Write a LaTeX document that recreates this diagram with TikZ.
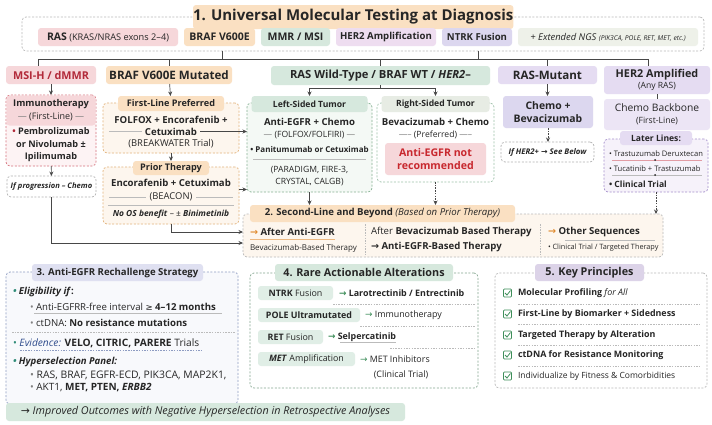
\documentclass[tikz,border=0pt]{standalone}
\usepackage{fontspec}
\setmainfont{Open Sans}
\newfontfamily\symfont{DejaVu Sans}
\usetikzlibrary{positioning, arrows.meta}

\definecolor{ink}{HTML}{262626}
\definecolor{orangebg}{HTML}{FAE0C2}
\definecolor{orangelt}{HTML}{FDF6EE}
\definecolor{orangeln}{HTML}{E2B27A}
\definecolor{arrorange}{HTML}{E08A2E}
\definecolor{pinkbg}{HTML}{F6D7DA}
\definecolor{pinklt}{HTML}{FDF3F4}
\definecolor{pinkln}{HTML}{D6727D}
\definecolor{msired}{HTML}{B22A3A}
\definecolor{warnred}{HTML}{C8282E}
\definecolor{greenbg}{HTML}{D6E8DD}
\definecolor{greenlt}{HTML}{F4F9F5}
\definecolor{greenln}{HTML}{86B194}
\definecolor{sagebg}{HTML}{E7ECE4}
\definecolor{lavbg}{HTML}{E5DCF2}
\definecolor{lavlt}{HTML}{F6F2FA}
\definecolor{lavln}{HTML}{A690CC}
\definecolor{violetbg}{HTML}{DCD7EF}
\definecolor{her2bg}{HTML}{EEDDF0}
\definecolor{bluebg}{HTML}{DFE0F1}
\definecolor{bluelt}{HTML}{F8F9FC}
\definecolor{blueln}{HTML}{8E9CC2}
\definecolor{bluetx}{HTML}{2F4C8C}
\definecolor{keybg}{HTML}{DCD3E8}
\definecolor{checkgreen}{HTML}{3E8E5A}
\definecolor{bullteal}{HTML}{2F8C78}
\definecolor{ngsbg}{HTML}{EEF1E9}
\definecolor{rulegray}{HTML}{BBBBBB}

\newcommand{\szT}{\fontsize{15}{17}\selectfont}
\newcommand{\szH}{\fontsize{11.6}{13.5}\selectfont}
\newcommand{\szB}{\fontsize{9.6}{12}\selectfont}
\newcommand{\szM}{\fontsize{8.9}{11}\selectfont}
\newcommand{\szS}{\fontsize{8.6}{11.5}\selectfont}
\newcommand{\szX}{\fontsize{8}{10}\selectfont}
\newcommand{\szXX}{\fontsize{7.3}{9}\selectfont}
\newcommand{\ra}{{\symfont →}}

\begin{document}
\begin{tikzpicture}[x=1pt, y=-1pt, line width=0.6pt, text=ink,
  every node/.style={inner sep=0pt, outer sep=0pt},
  box/.style={anchor=north west, rounded corners=3pt},
  panel/.style={box, draw, rounded corners=4pt, dash pattern=on 2pt off 1.6pt, line width=0.7pt},
  link/.style={draw=ink!85, line width=0.7pt},
  arr/.style={link, -{Stealth[length=4.5pt, width=4pt]}},
  darr/.style={arr, dash pattern=on 1.5pt off 1.2pt},
  rule/.style={draw=rulegray, line width=0.4pt},
  dsep/.style={draw=rulegray, line width=0.4pt, dash pattern=on 1.5pt off 1.2pt},
  tagbox/.style={box, fill=greenbg!75, minimum height=14pt, font=\szM},
  chk/.style={draw=checkgreen, line width=0.7pt, rounded corners=0.8pt}]
\fill[white] (0,0) rectangle (712,424);
\useasboundingbox (0,0) rectangle (712,424);

% molecular testing
\node (testing) [panel, draw=gray!55, minimum width=682pt, minimum height=34pt] at (22,17) {};
\node (title) [box, fill=orangebg, minimum width=282pt, minimum height=24pt, font=\szT\bfseries] at (193,5) {1. Universal Molecular Testing at Diagnosis};
\node (tRAS) [box, fill=pinkbg, minimum width=140pt, minimum height=18pt, font=\fontsize{9.2}{10}\selectfont] at (38,28) {{\fontsize{10.5}{12}\selectfont\bfseries RAS} (KRAS/NRAS exons 2--4)};
\node (tBRAF) [box, fill=orangebg, minimum width=71pt, minimum height=18pt, font=\fontsize{10.5}{12}\selectfont\bfseries] at (184,28) {BRAF V600E};
\node (tMMR) [box, fill=greenbg, minimum width=69pt, minimum height=18pt, font=\fontsize{10.5}{12}\selectfont\bfseries] at (261,28) {MMR / MSI};
\node (tHER2) [box, fill=her2bg, minimum width=100pt, minimum height=18pt, font=\szB\bfseries] at (336,28) {HER2 Amplification};
\node (tNTRK) [box, fill=violetbg, minimum width=70pt, minimum height=18pt, font=\szB\bfseries] at (442,28) {NTRK Fusion};
\node (tNGS) [box, fill=ngsbg, minimum width=180pt, minimum height=18pt, font=\fontsize{9.4}{10}\selectfont\itshape] at (518,28) {+ Extended NGS {\fontsize{6.7}{8}\selectfont (PIK3CA, POLE, RET, MET, etc.)}};

% first-line headers
\node (msi) [box, fill=pinkbg, minimum width=90pt, minimum height=18pt, font=\fontsize{10.8}{13}\selectfont\bfseries, text=msired] at (6,66) {MSI-H / dMMR};
\node (braf) [box, fill=orangebg, minimum width=126pt, minimum height=18pt, font=\szH\bfseries] at (106,66) {BRAF V600E Mutated};
\node (raswt) [box, fill=greenbg, minimum width=219pt, minimum height=19pt, font=\fontsize{11.2}{13}\selectfont\bfseries] at (271,66) {RAS Wild-Type / BRAF WT / \textit{HER2}--};
\node (rasmut) [box, fill=lavbg, minimum width=99pt, minimum height=18pt, font=\szH\bfseries] at (498,66) {RAS-Mutant};
\node (her2) [box, fill=lavbg, minimum width=106pt, minimum height=28pt, align=center] at (604,66) {{\fontsize{10.8}{13}\selectfont\bfseries HER2 Amplified}\\[-1pt]{\szS (Any RAS)}};

% MSI-H column
\node (immuno) [panel, draw=pinkln, fill=pinklt, minimum width=90pt, minimum height=71pt] at (6,95) {};
\node (immunohead) [box, fill=pinkbg, minimum width=89pt, minimum height=30pt] at (6.5,95.5) {};
\node (immunoT) [font=\fontsize{9.3}{11}\selectfont\bfseries] at (51,104) {Immunotherapy};
\node (immunoFL) [font=\fontsize{9}{11}\selectfont] at (51,117) {\textcolor{gray}{---} (First-Line) \textcolor{gray}{---}};
\node (pembro) [font=\fontsize{9.1}{12.5}\selectfont\bfseries, align=center] at (51,145) {\textcolor{msired}{•} Pembrolizumab\\or Nivolumab ±\\Ipilimumab};
\node (progress) [panel, draw=gray!60, fill=white, minimum width=89pt, minimum height=21pt, font=\fontsize{7.6}{9}\selectfont\bfseries\itshape] at (7,176) {If progression -- Chemo};

% BRAF column
\node (firstline) [panel, draw=orangeln, fill=orangelt, minimum width=136pt, minimum height=50pt] at (103,103) {};
\node (firstlineT) [box, fill=orangebg, minimum width=106pt, minimum height=15pt, font=\fontsize{9.1}{11}\selectfont\bfseries] at (118,96) {First-Line Preferred};
\node (folfox) [font=\szB\bfseries] at (171,120) {FOLFOX + Encorafenib +};
\node (cetux) [font=\szB\bfseries] at (171,131.5) {Cetuximab};
\node (breakwater) [font=\fontsize{9.4}{11}\selectfont] at (171,144) {(BREAKWATER Trial)};
\draw[rule] (109,131.5) -- ([xshift=-3pt]cetux.west);
\node (prior) [panel, draw=orangeln, fill=orangelt, minimum width=136pt, minimum height=57pt] at (103,167) {};
\node (priorT) [box, fill=orangebg, minimum width=76pt, minimum height=14pt, font=\fontsize{9.1}{11}\selectfont\bfseries] at (133,161) {Prior Therapy};
\node (encocet) [font=\szB\bfseries] at (171,183) {Encorafenib + Cetuximab};
\node (beacon) [font=\fontsize{9.4}{11}\selectfont] at (171,197) {(BEACON)};
\draw[rule] (109,197) -- ([xshift=-4pt]beacon.west);
\draw[rule] ([xshift=4pt]beacon.east) -- (233,197);
\draw[rule] (108,205) -- (234,205);
\node (noos) [font=\fontsize{8.4}{10}\selectfont] at (171,214) {\textbf{\textit{No OS benefit}} -- ± \textbf{\textit{Binimetinib}}};

% RAS wild-type column
\node (leftside) [panel, draw=greenln, fill=greenlt, minimum width=125pt, minimum height=89pt] at (247,103) {};
\node (leftsideT) [box, fill=greenbg, minimum width=116pt, minimum height=16pt, font=\szS\bfseries] at (251.5,96) {Left-Sided Tumor};
\node (antiegfr) [font=\szB\bfseries] at (309.5,122) {Anti-EGFR + Chemo};
\node (folfiri) [font=\szS] at (309.5,135) {\textcolor{gray}{---} (FOLFOX/FOLFIRI) \textcolor{gray}{---}};
\node (panitu) [font=\szX\bfseries] at (309.5,149) {• Panitumumab or Cetuximab};
\draw[rule] (253,159) -- (366,159);
\node (trials) [font=\szS, align=center] at (309.5,176) {(PARADIGM, FIRE-3,\\CRYSTAL, CALGB)};

\node (rightside) [panel, draw=greenln!80, fill=white, minimum width=117pt, minimum height=79pt] at (377,103) {};
\node (rightsideT) [box, fill=sagebg, minimum width=108pt, minimum height=16pt, font=\szS\bfseries] at (381.5,96) {Right-Sided Tumor};
\node (bevachemo) [font=\szB\bfseries] at (435.5,122) {Bevacizumab + Chemo};
\node (preferred) [font=\szS] at (435.5,135) {\textcolor{gray}{-----} (Preferred) \textcolor{gray}{-----}};
\node (noegfr) [box, fill=pinkbg, minimum width=101pt, minimum height=32pt, align=center, font=\fontsize{10.6}{13}\selectfont\bfseries, text=warnred] at (385,143) {Anti-EGFR not\\recommended};

% RAS-mutant column
\node (chemobev) [box, fill=violetbg, minimum width=90pt, minimum height=32pt, align=center, font=\fontsize{10.4}{13}\selectfont\bfseries] at (503,96) {Chemo +\\Bevacizumab};
\node (seebelow) [panel, draw=gray!60, fill=white, minimum width=93pt, minimum height=20pt, font=\fontsize{7.8}{9}\selectfont\bfseries\itshape] at (501,142) {If HER2+ \ra{} See Below};

% HER2 column
\node (backbone) [box, fill=lavlt!40!lavbg, minimum width=106pt, minimum height=31pt, align=center] at (604,99) {{\fontsize{10.3}{12.5}\selectfont Chemo Backbone}\\{\szS (First-Line)}};
\node (later) [panel, draw=lavln, fill=lavlt, minimum width=104pt, minimum height=53pt] at (604,139) {};
\node (laterT) [box, fill=lavbg, minimum width=72pt, minimum height=14pt, font=\szS\bfseries] at (620,131) {Later Lines:};
\node (tdxd) [anchor=west, font=\fontsize{7.6}{10}\selectfont] at (609,154) {• Trastuzumab Deruxtecan};
\draw[draw=pinkln!70, line width=0.4pt] (612,160) -- (702,160);
\fill[ink] (655,160) circle (1pt);
\node (tucat) [anchor=west, font=\fontsize{7.6}{10}\selectfont] at (609,169) {• Tucatinib + Trastuzumab};
\draw[rule] (612,175) -- (702,175);
\fill[ink] (655,175) circle (1pt);
\node (ctrial) [anchor=west, font=\szS\bfseries] at (609,184) {• Clinical Trial};

% second line
\node (second) [panel, draw=gray!55, fill=orangelt, minimum width=420pt, minimum height=43pt] at (243,214) {};
\node (secondT) [box, fill=orangebg, minimum width=265pt, minimum height=17pt, font=\szB] at (250,205) {\textbf{2. Second-Line and Beyond} \textit{(Based on Prior Therapy)}};
\draw[dsep] (365,224) -- (365,256);
\draw[dsep] (540,224) -- (540,256);
\node (afteregfr) [anchor=west, font=\szB\bfseries] at (250,232) {\textcolor{arrorange}{\ra} After Anti-EGFR};
\draw[draw=arrorange!60, line width=0.5pt] (250,239.5) -- (335,239.5);
\node (bevabased) [anchor=west, font=\szX] at (250,248) {Bevacizumab-Based Therapy};
\node (afterbev) [anchor=west, font=\szB] at (371,232) {After \textbf{Bevacizumab Based Therapy}};
\node (egfrbased) [anchor=west, font=\szB\bfseries] at (371,247) {\ra{} Anti-EGFR-Based Therapy};
\node (othseq) [anchor=west, font=\szB\bfseries] at (548,232) {\textcolor{arrorange}{\ra} Other Sequences};
\draw[rule] (565,240) -- (655,240);
\node (ctt) [anchor=west, font=\szXX] at (548,248) {• Clinical Trial / Targeted Therapy};

% rechallenge
\node (rechal) [panel, draw=blueln, fill=bluelt, minimum width=232pt, minimum height=132pt] at (6,272) {};
\node (rechalT) [box, fill=bluebg, minimum width=171pt, minimum height=17pt, font=\szB\bfseries] at (32,264) {3. Anti-EGFR Rechallenge Strategy};
\node (elig) [anchor=west, font=\szB\bfseries\itshape] at (13,292) {\textcolor{bullteal}{•} Eligibility if\textup{:}};
\node (interval) [anchor=west, font=\szB] at (30,307) {\textcolor{gray}{•} Anti-EGFRR-free interval {\symfont\szS ≥} \textbf{4--12 months}};
\draw[rule] (34,313) -- (222,313);
\node (ctdna) [anchor=west, font=\szB] at (30,323) {\textcolor{gray}{•} ctDNA: \textbf{No resistance mutations}};
\draw[dsep] (12,332) -- (236,332);
\node (evid) [anchor=west, font=\fontsize{10.2}{12}\selectfont] at (13,343) {\textcolor{bullteal}{•} \textcolor{bluetx}{\textit{Evidence:}} \textbf{VELO, CITRIC, PARERE} Trials};
\draw[dsep, draw=blueln] (20,350) -- (203,350);
\node (hyper) [anchor=west, font=\szB\bfseries\itshape] at (13,362) {\textcolor{bullteal}{•} Hyperselection Panel:};
\node (genes1) [anchor=west, font=\fontsize{10.4}{12}\selectfont] at (30,375) {\textcolor{gray}{•} RAS, BRAF, EGFR-ECD, PIK3CA, MAP2K1,};
\node (genes2) [anchor=west, font=\fontsize{10}{12}\selectfont] at (30,388) {\textcolor{gray}{•} AKT1, \textbf{MET, PTEN, \textit{ERBB2}}};
\node (improved) [box, fill=greenbg, minimum width=399pt, minimum height=18pt, font=\fontsize{10.8}{12}\selectfont\itshape] at (6,403) {\ra{} Improved Outcomes with Negative Hyperselection in Retrospective Analyses};

% rare alterations
\node (rare) [panel, draw=greenln!80!gray, fill=white, minimum width=228pt, minimum height=115pt] at (250,273) {};
\node (rareT) [box, fill=greenbg, minimum width=178pt, minimum height=17pt, font=\fontsize{10.8}{13}\selectfont\bfseries] at (275,264) {4. Rare Actionable Alterations};
\node (ntrk) [tagbox, minimum width=75pt] at (258,286) {\textbf{NTRK} Fusion};
\node (ntrkdrug) [right=6pt of ntrk, font=\szM\bfseries] {\textcolor{checkgreen}{\ra} Larotrectinib / Entrectinib};
\draw[dsep] (333,304) -- (476,304);
\node (pole) [tagbox, minimum width=102pt] at (258,308) {\textbf{POLE Ultramutated}};
\node (poledrug) [right=5pt of pole, font=\szM] {\textcolor{checkgreen}{\ra} Immunotherapy};
\draw[dsep] (360,326) -- (476,326);
\node (ret) [tagbox, minimum width=65pt] at (258,330) {\textbf{RET} Fusion};
\node (retdrug) [right=5pt of ret, font=\szM\bfseries] {\textcolor{checkgreen}{\ra} Selpercatinib};
\draw[rule] ([xshift=12pt, yshift=-1pt]retdrug.south west) -- ([yshift=-1pt]retdrug.south east);
\draw[dsep] (390,348) -- (476,348);
\node (met) [tagbox, minimum width=97pt] at (258,352) {\textbf{\textit{MET}} Amplification};
\node (metdrug) [right=5pt of met, font=\szM] {\textcolor{checkgreen}{\ra} MET Inhibitors};
\node (mettrial) [font=\szM] at (401,375) {(Clinical Trial)};

% key principles
\node (keys) [panel, draw=gray!55, fill=white, minimum width=212pt, minimum height=115pt] at (495,273) {};
\node (keysT) [box, fill=keybg, minimum width=109pt, minimum height=17pt, font=\fontsize{10.8}{13}\selectfont\bfseries] at (535,264) {5. Key Principles};
\node (k1) [anchor=west, font=\szM] at (518,293) {\textbf{Molecular Profiling} \textit{for All}};
\node (k2) [anchor=west, font=\szM\bfseries] at (518,314) {First-Line by Biomarker + Sidedness};
\node (k3) [anchor=west, font=\szM\bfseries] at (518,335) {Targeted Therapy by Alteration};
\node (k4) [anchor=west, font=\szM\bfseries] at (518,355) {ctDNA for Resistance Monitoring};
\node (k5) [anchor=west, font=\fontsize{8.5}{11}\selectfont] at (518,376) {Individualize by Fitness \& Comorbidities};
\foreach \y in {304,324,345,366}
  \draw[dsep] (518,\y) -- (700,\y);
\foreach \y in {293,314,335,355,376} {
  \draw[chk] (503.5,\y-4) rectangle (511.5,\y+4);
  \draw[draw=checkgreen, line width=0.8pt] (505,\y) -- (507,\y+2) -- (510.5,\y-2.5);
}

% connectors
\coordinate (busL) at (38,59);
\coordinate (busR) at (648,59);
\coordinate (b1) at (222,59);
\coordinate (b2) at (478,59);
\draw[link] (busL) -- (busR);
\draw[link] (testing.south -| b1) -- (b1);
\draw[link] (testing.south -| b2) -- (b2);
\draw[link] (busL) -- (msi.north -| busL);
\draw[link] (braf.north |- busL) -- (braf.north);
\draw[link] (raswt.north |- busL) -- (raswt.north);
\draw[link] (rasmut.north |- busL) -- (rasmut.north);
\draw[link] (busR) -- (her2.north -| busR);

\draw[arr] (msi) -- (immuno);
\draw[arr] (immuno) -- (progress);
\draw[arr] (progress.south) |- ([yshift=-7.5pt]second.west);

\draw[arr] (braf) -- (firstlineT);
\draw[arr] ([xshift=3pt]cetux.east) -- (cetux.east -| leftside.west);
\draw[arr] (firstline.south) -- (priorT.north);
\draw[arr] ([yshift=6pt]prior.east) -- ([yshift=6pt]prior.east -| leftside.west);
\draw[arr] (prior.south) |- ([yshift=3.5pt]second.west);

\coordinate (wtbus) at (380.5,88);
\draw[arr] (raswt.south) |- (leftsideT.north |- wtbus) -- (leftsideT.north);
\draw[arr] (raswt.south) |- (rightsideT.north |- wtbus) -- (rightsideT.north);
\draw[arr] (leftside.south) -- (leftside.south |- secondT.north);
\draw[darr] (rightside.south) -- (rightside.south |- secondT.north);

\draw[arr] (rasmut.south) -- (rasmut.south |- chemobev.north);
\draw[darr] (chemobev.south) -- (chemobev.south |- seebelow.north);

\draw[link] (her2.south) -- (backbone.north);
\draw[darr] (later.south) -- (later.south |- second.north);
\end{tikzpicture}
\end{document}
